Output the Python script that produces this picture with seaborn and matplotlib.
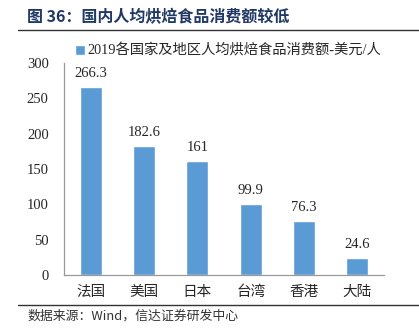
import matplotlib
matplotlib.use("Agg")
import matplotlib.pyplot as plt
import seaborn as sns
import pandas as pd
from matplotlib.lines import Line2D

categories = ["法国", "美国", "日本", "台湾", "香港", "大陆"]
values = [266.3, 182.6, 161, 99.9, 76.3, 24.6]
value_labels = ["266.3", "182.6", "161", "99.9", "76.3", "24.6"]
series_name = "2019各国家及地区人均烘焙食品消费额-美元/人"
yticks = [0, 50, 100, 150, 200, 250, 300]
title = "图 36：国内人均烘焙食品消费额较低"
source = "数据来源：Wind，信达证券研发中心"

sns.set_style("white")
plt.rcParams['font.family'] = ['Liberation Serif', 'Noto Sans CJK SC', 'DejaVu Sans']

W, H = 419, 335
fig = plt.figure(figsize=(W / 100, H / 100), dpi=100)
ax = fig.add_axes([64 / W, 1 - 275 / H, 320 / W, 212 / H])

df = pd.DataFrame({"cat": categories, "val": values})
sns.barplot(data=df, x="cat", y="val", color="#5B9BD5", width=0.41,
            saturation=1, label=series_name, ax=ax)

ax.set_xlim(-0.5, len(categories) - 0.5)
ax.set_ylim(0, 300)
ax.set_yticks(yticks)
ax.set_yticklabels([str(t) for t in yticks], fontsize=10.5,
                   family=['Liberation Serif'])
ax.set_xlabel("")
ax.set_ylabel("")
ax.set_xticks(range(len(categories)))
ax.set_xticklabels(categories, fontsize=10.5, family=['Noto Sans CJK SC'])
ax.set_xticks([i - 0.5 for i in range(len(categories) + 1)], minor=True)
ax.tick_params(axis='x', which='major', length=0, pad=7)
ax.tick_params(axis='x', which='minor', length=4, width=0.8, color='#999999', direction='out')
ax.tick_params(axis='y', length=3, width=0.8, color='#999999', direction='out', pad=8)
for s in ["top", "right"]:
    ax.spines[s].set_visible(False)
for s in ["left", "bottom"]:
    ax.spines[s].set_color("#999999")
    ax.spines[s].set_linewidth(0.9)

for i, (v, lab) in enumerate(zip(values, value_labels)):
    ax.annotate(lab, (i, v), xytext=(0, 5), textcoords="offset points",
                ha="center", va="bottom", fontsize=10.5,
                family=['Liberation Serif'])

leg = ax.legend(loc="lower left", bbox_to_anchor=(75 / W, 1 - 58 / H),
                bbox_transform=fig.transFigure, frameon=False,
                handlelength=0.7, handleheight=0.7, handletextpad=0.15,
                borderaxespad=0, borderpad=0,
                prop={'family': ['Liberation Serif', 'Noto Sans CJK SC'], 'size': 10.3})

fig.text(27 / W, 1 - 17 / H, title, ha="left", va="center", fontsize=11.5,
         fontweight="bold", color="#1F3864",
         family=['Noto Sans CJK SC'])
fig.add_artist(Line2D([18 / W, 1], [1 - 30 / H, 1 - 30 / H], color="#333333",
                      linewidth=1.0, transform=fig.transFigure))
fig.add_artist(Line2D([18 / W, 1], [1 - 305 / H, 1 - 305 / H], color="#333333",
                      linewidth=1.0, transform=fig.transFigure))
fig.text(27 / W, 1 - 316 / H, source, ha="left", va="center", fontsize=9.3,
         color="#333333", style="italic", family=['Noto Sans CJK SC', 'DejaVu Sans'])

fig.savefig("out.png", dpi=100)
